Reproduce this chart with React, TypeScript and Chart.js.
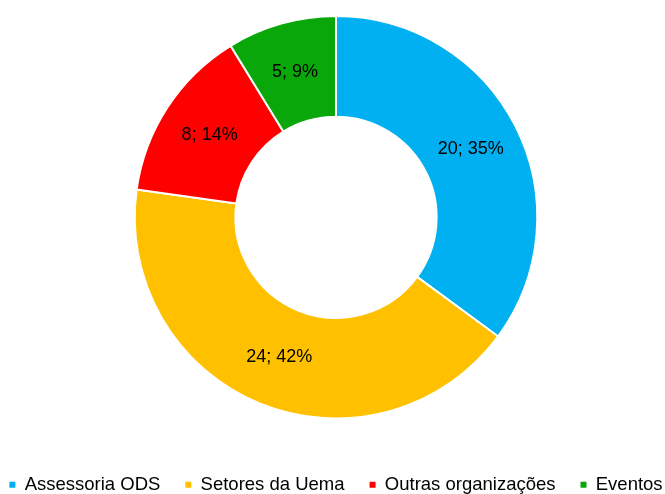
import React, { useEffect, useRef } from "react";
import { Chart, registerables } from "chart.js";

Chart.register(...registerables);

const categories = ["Assessoria ODS", "Setores da Uema", "Outras organizações", "Eventos"];
const values = [20, 24, 8, 5];
const colors = ["#00B0F0", "#FFC000", "#FF0000", "#09A709"];

const FONT = "'Liberation Sans', Arial, Helvetica, sans-serif";

const sliceLabels = {
  id: "sliceLabels",
  afterDatasetsDraw(chart: any) {
    const ctx = chart.ctx;
    const meta = chart.getDatasetMeta(0);
    const data = chart.data.datasets[0].data as number[];
    const total = data.reduce((a, b) => a + b, 0);
    ctx.save();
    ctx.font = `18px ${FONT}`;
    ctx.fillStyle = "#000";
    ctx.textAlign = "center";
    ctx.textBaseline = "middle";
    meta.data.forEach((arc: any, i: number) => {
      const p = arc.tooltipPosition();
      const pct = Math.round((data[i] / total) * 100);
      ctx.fillText(`${data[i]}; ${pct}%`, p.x, p.y);
    });
    ctx.restore();
  },
};

export default function App() {
  const ref = useRef<HTMLCanvasElement | null>(null);
  useEffect(() => {
    if (!ref.current) return;
    const defaultLabels = (Chart as any).overrides.doughnut.plugins.legend.labels.generateLabels;
    const chart = new Chart(ref.current, {
      type: "doughnut",
      data: {
        labels: categories,
        datasets: [
          {
            data: values,
            backgroundColor: colors,
            borderColor: "#ffffff",
            borderWidth: 2,
          },
        ],
      },
      options: {
        animation: false,
        responsive: false,
        cutout: "50%",
        layout: { padding: { top: 15, left: 0, right: 8, bottom: 0 } },
        plugins: {
          tooltip: { enabled: false },
          legend: {
            display: true,
            position: "bottom",
            title: { display: true, text: "", font: { size: 10 }, padding: { top: 19, bottom: 0 } },
            labels: {
              boxWidth: 6,
              boxHeight: 6,
              padding: 25,
              color: "#000",
              font: { family: FONT, size: 18.5 },
              generateLabels: (c: any) =>
                defaultLabels(c).map((l: any) => ({ ...l, lineWidth: 0, strokeStyle: l.fillStyle })),
            },
          },
        },
      },
      plugins: [sliceLabels],
    });
    return () => chart.destroy();
  }, []);
  return (
    <div style={{ position: "fixed", left: 0, top: 0, width: 665, height: 494, overflow: "hidden", background: "#fff" }}>
      <canvas
        ref={ref}
        width={740}
        height={504}
        style={{ position: "absolute", left: -30, top: 0, width: 740, height: 504 }}
      />
    </div>
  );
}
